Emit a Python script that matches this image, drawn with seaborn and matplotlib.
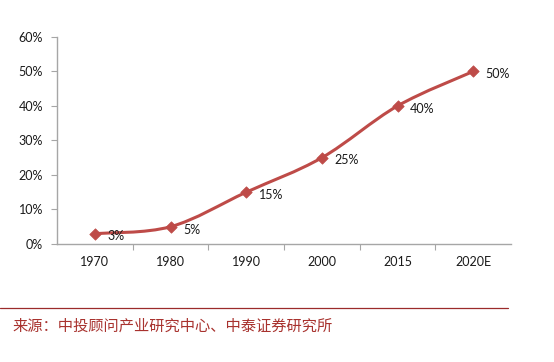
import matplotlib
matplotlib.use("Agg")
import matplotlib.pyplot as plt
import seaborn as sns
import numpy as np
import pandas as pd
from matplotlib.path import Path
from matplotlib.patches import PathPatch

years = ["1970", "1980", "1990", "2000", "2015", "2020E"]
values = [3, 5, 15, 25, 40, 50]
labels = ["3%", "5%", "15%", "25%", "40%", "50%"]
yticks = [0, 10, 20, 30, 40, 50, 60]
source = "来源：中投顾问产业研究中心、中泰证券研究所"

sns.set_theme(style="white")
plt.rcParams['font.family'] = ['Lato', 'DejaVu Sans']

red = "#BE4B48"
fig = plt.figure(figsize=(5.54, 3.62), dpi=100)
ax = fig.add_axes([0.1029, 0.326, 0.8195, 0.572])

df = pd.DataFrame({"year": years, "value": values})
xs = np.arange(len(years), dtype=float)
ys = np.array(values, dtype=float)

# smooth (Catmull-Rom style Bezier) line through the data points
verts = [(xs[0], ys[0])]
codes = [Path.MOVETO]
n = len(xs)
for i in range(n - 1):
    p0 = np.array([xs[max(i - 1, 0)], ys[max(i - 1, 0)]])
    p1 = np.array([xs[i], ys[i]])
    p2 = np.array([xs[i + 1], ys[i + 1]])
    p3 = np.array([xs[min(i + 2, n - 1)], ys[min(i + 2, n - 1)]])
    c1 = p1 + (p2 - p0) / 6.0
    c2 = p2 - (p3 - p1) / 6.0
    verts += [tuple(c1), tuple(c2), tuple(p2)]
    codes += [Path.CURVE4] * 3
ax.add_patch(PathPatch(Path(verts, codes), facecolor="none", edgecolor=red, lw=2.2, zorder=2))

sns.scatterplot(data=df, x="year", y="value", marker="D", s=34, color=red,
                edgecolor=red, linewidth=0.5, ax=ax, zorder=3, legend=False)

for i, (v, lab) in enumerate(zip(values, labels)):
    ax.annotate(lab, (i, v), xytext=(9, -2), textcoords="offset points",
                ha="left", va="center", fontsize=9, color="#1a1a1a")

ax.set_xlim(-0.5, len(years) - 0.5)
ax.set_ylim(0, 60)
ax.set_yticks(yticks)
ax.set_yticklabels([f"{t}%" for t in yticks], fontsize=9, color="#1a1a1a")
ax.set_xticks(xs)
ax.set_xticklabels(years, fontsize=9, color="#1a1a1a")
ax.set_xlabel("")
ax.set_ylabel("")

for s in ["top", "right"]:
    ax.spines[s].set_visible(False)
for s in ["left", "bottom"]:
    ax.spines[s].set_color("#A6A6A6")
    ax.spines[s].set_linewidth(1.0)

ax.tick_params(axis="y", which="major", length=4, width=0.8, color="#A6A6A6",
               direction="out", left=True, pad=6)
ax.tick_params(axis="x", which="major", length=0, pad=9)
ax.set_xticks(np.arange(0.5, len(years) - 0.5, 1.0), minor=True)
ax.tick_params(axis="x", which="minor", length=4, width=0.8, color="#A6A6A6",
               direction="out", bottom=True)

# source line and text
fig.add_artist(plt.Line2D([0.0, 0.917], [0.149, 0.149], color="#9B2B2B", lw=0.9))
fig.text(0.022, 0.098, source, fontsize=11, color="#A8322E",
         family=["Noto Sans CJK SC", "DejaVu Sans"], va="center", ha="left")

fig.savefig("out.png", dpi=100)
